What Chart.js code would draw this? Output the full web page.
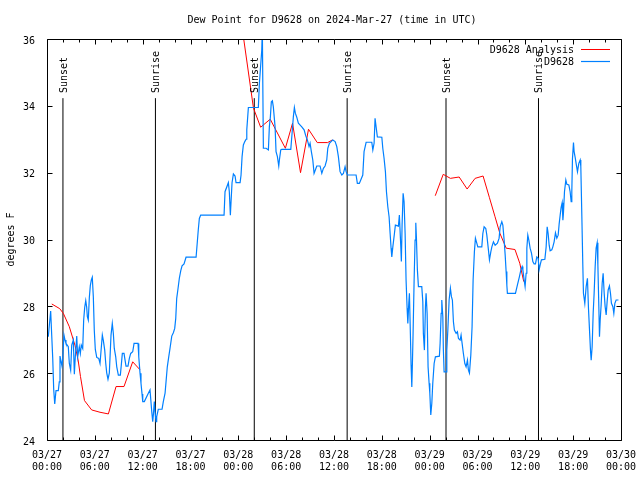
<!DOCTYPE html>
<html><head><meta charset="utf-8">
<script src="https://cdn.jsdelivr.net/npm/chart.js@4"></script>
<style>html,body{margin:0;padding:0;background:#fff}canvas{display:block}</style>
</head><body>
<canvas id="c" width="640" height="480"></canvas>
<script>
const titleText = 'Dew Point for D9628 on 2024-Mar-27 (time in UTC)';
const yTitle = 'degrees F';
const seriesNames = ['D9628 Analysis', 'D9628'];
const xTickLabels = ['03/27\n00:00','03/27\n06:00','03/27\n12:00','03/27\n18:00','03/28\n00:00','03/28\n06:00','03/28\n12:00','03/28\n18:00','03/29\n00:00','03/29\n06:00','03/29\n12:00','03/29\n18:00','03/30\n00:00'];
const yTicks = [24, 26, 28, 30, 32, 34, 36];

// hours since 03/27 00:00 UTC
const obsHours = [0.16,0.46,0.59,0.72,0.84,0.97,1.13,1.42,1.54,1.63,1.88,1.97,2.13,2.26,2.38,2.67,2.80,2.97,3.10,3.30,3.43,3.55,3.73,3.85,4.05,4.18,4.30,4.48,4.60,4.73,4.86,4.98,5.06,5.18,5.31,5.43,5.56,5.68,5.81,5.93,6.06,6.24,6.49,6.65,6.94,7.06,7.24,7.37,7.49,7.65,7.82,8.03,8.19,8.32,8.44,8.62,8.75,8.95,9.20,9.32,9.45,9.66,9.79,9.91,10.16,10.33,10.50,10.75,10.92,11.42,11.51,11.67,11.79,11.92,12.01,12.21,12.71,12.92,13.14,13.26,13.34,13.46,13.55,13.68,13.76,13.96,14.43,14.59,14.81,14.93,15.09,15.27,15.43,15.65,15.85,16.02,16.15,16.27,16.44,16.60,16.78,16.94,17.19,17.44,18.70,18.98,19.11,19.28,22.21,22.33,22.75,22.87,23.00,23.21,23.38,23.59,23.71,24.22,24.34,24.47,24.63,24.81,24.97,25.06,25.26,26.51,26.64,26.94,27.01,27.14,27.48,27.77,27.89,28.02,28.14,28.27,28.39,28.61,28.73,28.90,29.07,29.15,29.32,29.45,30.58,30.74,30.90,31.03,31.15,31.33,31.53,31.96,32.25,32.46,32.66,32.87,33.00,33.16,33.34,33.50,33.66,33.84,34.25,34.47,34.67,34.88,35.09,35.22,35.42,35.85,36.14,36.35,36.55,36.76,36.98,37.18,37.39,37.52,37.68,38.77,38.93,39.18,39.61,39.77,40.03,40.74,40.87,41.03,41.15,41.28,41.44,42.00,42.12,42.28,42.45,42.58,42.75,42.91,43.04,43.16,43.25,43.38,43.58,43.70,44.08,44.20,44.38,44.45,44.54,44.67,44.79,44.92,45.04,45.17,45.26,45.38,45.46,45.58,45.67,45.76,45.83,45.92,46.05,46.17,46.26,46.34,46.46,46.59,47.01,47.14,47.21,47.34,47.47,47.55,47.68,47.80,47.93,48.02,48.14,48.27,48.39,48.56,48.72,49.22,49.31,49.44,49.52,49.65,49.72,49.81,50.06,50.15,50.28,50.44,50.60,50.73,50.85,50.98,51.10,51.32,51.48,51.61,51.82,51.94,52.07,52.23,52.41,52.57,52.74,52.86,52.99,53.16,53.32,53.45,53.61,53.74,53.91,54.04,54.54,54.67,54.83,55.04,55.17,55.37,55.50,55.67,55.80,56.00,56.21,56.50,56.71,56.84,57.05,57.18,57.34,57.47,57.59,57.68,57.75,58.76,59.01,59.26,59.44,59.60,59.69,59.85,59.97,60.10,60.19,60.31,60.44,60.60,60.77,60.94,61.10,61.27,61.44,61.61,61.73,61.86,62.02,62.45,62.61,62.74,62.86,62.99,63.11,63.32,63.45,63.61,63.78,63.95,64.12,64.24,64.37,64.49,64.62,64.71,64.78,64.91,65.08,65.21,65.46,65.62,65.75,65.83,65.91,66.04,66.12,66.25,66.37,66.54,66.71,66.88,66.96,67.09,67.21,67.29,67.46,67.63,67.79,67.92,68.04,68.17,68.26,68.38,68.51,68.63,68.76,68.88,69.01,69.10,69.22,69.30,69.39,69.51,69.64,69.76,69.89,70.01,70.14,70.26,70.39,70.55,70.68,70.80,70.98,71.10,71.23,71.39,71.68];
const obsDew = [27.09,27.86,27.14,26.44,25.52,25.08,25.48,25.48,25.74,26.51,26.21,26.44,27.14,26.99,26.89,26.79,26.29,26.09,26.84,26.99,25.97,26.49,27.11,26.49,26.79,26.59,26.84,26.74,27.59,27.97,28.17,27.97,27.69,27.59,28.26,28.61,28.79,28.87,28.29,27.29,26.71,26.47,26.44,26.29,27.14,26.99,26.69,26.29,26.01,25.82,26.01,27.14,27.49,27.19,26.74,26.49,26.19,25.94,25.94,26.24,26.59,26.59,26.39,26.21,26.21,26.44,26.59,26.64,26.89,26.89,26.49,26.00,25.70,25.38,25.15,25.15,25.40,25.50,24.85,24.55,24.75,25.15,24.85,24.55,24.70,24.92,24.92,25.15,25.40,25.74,26.19,26.49,26.74,27.11,27.21,27.34,27.64,28.24,28.54,28.84,29.07,29.21,29.27,29.47,29.47,30.30,30.63,30.73,30.73,31.43,31.70,31.43,30.73,31.70,31.96,31.90,31.70,31.70,31.93,32.48,32.83,32.93,33.00,33.28,33.95,33.95,34.67,35.67,36.30,32.73,32.73,32.68,33.37,33.67,34.12,34.15,33.97,33.37,32.63,32.48,32.20,32.38,32.68,32.70,32.70,33.18,33.67,33.95,33.78,33.66,33.48,33.37,33.28,33.10,32.98,32.78,32.88,32.63,32.38,31.98,32.08,32.20,32.20,31.98,32.13,32.20,32.38,32.73,32.88,32.98,32.93,32.78,32.48,32.03,31.93,31.98,32.18,32.03,31.93,31.93,31.68,31.68,31.93,32.63,32.91,32.91,32.68,32.88,33.63,33.37,33.07,33.06,32.73,32.43,32.03,31.43,30.98,30.68,30.18,29.74,29.48,29.78,30.18,30.43,30.40,30.73,29.78,29.34,30.43,31.38,31.13,30.18,28.79,27.94,27.49,28.09,28.39,27.19,26.24,25.59,26.24,27.19,28.79,29.98,30.50,30.04,29.09,28.59,28.59,28.14,27.19,26.69,27.99,28.39,27.79,26.19,25.70,25.40,24.75,25.10,25.70,26.29,26.49,26.51,26.89,27.79,28.19,27.69,26.69,26.04,26.04,26.69,27.29,28.19,28.54,28.29,28.19,27.54,27.29,27.19,27.24,27.04,26.99,27.14,26.89,26.59,26.29,26.19,26.39,26.09,26.00,26.54,27.39,28.79,29.63,30.04,29.89,29.78,29.78,30.18,30.38,30.33,30.13,29.69,29.39,29.63,29.78,29.93,29.83,29.89,30.04,30.38,30.53,30.43,29.98,29.54,29.04,28.64,28.39,28.39,28.64,28.89,29.09,29.19,29.09,28.79,28.59,28.99,29.74,30.13,29.98,29.74,29.59,29.34,29.27,29.27,29.48,29.44,29.09,29.24,29.39,29.41,29.78,30.38,30.18,29.83,29.66,29.69,29.78,29.93,30.20,30.04,30.13,30.46,30.73,30.96,31.10,30.58,30.78,31.43,31.78,31.65,31.63,31.43,31.13,31.43,32.40,32.90,32.63,32.46,32.28,32.03,32.28,32.38,32.18,30.68,29.24,28.39,28.09,28.59,28.84,27.94,27.34,26.69,26.39,26.79,27.79,28.39,29.19,29.74,29.90,29.24,27.99,27.09,27.59,28.04,28.69,28.99,28.39,27.99,27.74,28.14,28.49,28.61,28.39,28.09,27.99,27.79,28.09,28.19,28.19];

const anaHours = [0.6,1.6,2.05,2.8,3.5,3.9,4.2,4.7,5.6,6.65,7.7,8.66,9.66,10.75,11.67,null,24.2,25.9,26.8,28.0,29.9,30.8,31.8,32.8,33.9,35.2,35.8,null,48.7,49.7,50.6,51.7,52.7,53.7,54.7,55.5,56.2,56.8,57.6,58.7,59.3,59.8];
const anaDew = [28.07,27.93,27.79,27.39,26.84,26.40,25.90,25.18,24.90,24.83,24.78,25.60,25.60,26.34,26.10,null,36.8,33.93,33.36,33.60,32.73,33.48,32.00,33.30,32.90,32.90,32.98,null,31.31,31.95,31.83,31.87,31.51,31.83,31.90,31.25,30.68,30.19,29.74,29.70,29.29,28.74];

const sunHours = [2.0, 13.6, 26.0, 37.65, 50.05, 61.65];
const sunNames = ['Sunset','Sunrise','Sunset','Sunrise','Sunset','Sunrise'];
const sunLineTop = 34.23;

const FONT = '"DejaVu Sans Mono", "Liberation Mono", monospace';
Chart.defaults.font.family = FONT;
Chart.defaults.font.size = 10;
Chart.defaults.color = '#000';

const colors = { ana: '#ff0000', obs: '#0080ff', sun: '#000000' };

const datasets = [
  { label: seriesNames[1], data: obsHours.map((h, i) => ({ x: h, y: obsDew[i] })),
    borderColor: colors.obs, borderWidth: 1.2, pointRadius: 0, tension: 0, order: 0 },
  { label: seriesNames[0], data: anaHours.map((h, i) => ({ x: h, y: anaDew[i] })),
    borderColor: colors.ana, borderWidth: 1, pointRadius: 0, tension: 0, spanGaps: false, order: 1 }
];
sunHours.forEach((t, i) => {
  datasets.push({ label: sunNames[i], data: [{ x: t, y: 24 }, { x: t, y: sunLineTop }],
    borderColor: colors.sun, borderWidth: 1, pointRadius: 0, order: 2 });
});

const deco = {
  id: 'deco',
  afterDraw(chart) {
    const { ctx, chartArea: a, scales: { x, y } } = chart;
    const L = Math.round(a.left) + 0.5, R = Math.round(a.right) + 0.5;
    const T = Math.round(a.top) + 0.5, B = Math.round(a.bottom) + 0.5;
    ctx.save();
    ctx.strokeStyle = '#000'; ctx.lineWidth = 1;
    ctx.beginPath();
    ctx.rect(L, T, R - L, B - T);
    for (let h = 0; h <= 72; h += 2) {
      const px = Math.round(x.getPixelForValue(h)) + 0.5;
      const len = (h % 6 === 0) ? 5 : 3;
      ctx.moveTo(px, B); ctx.lineTo(px, B - len);
      ctx.moveTo(px, T); ctx.lineTo(px, T + len);
    }
    yTicks.forEach(v => {
      const py = Math.round(y.getPixelForValue(v)) + 0.5;
      ctx.moveTo(L, py); ctx.lineTo(L + 5, py);
      ctx.moveTo(R, py); ctx.lineTo(R - 5, py);
    });
    ctx.stroke();

    ctx.fillStyle = '#000';
    ctx.font = '10px ' + FONT;
    ctx.textAlign = 'center'; ctx.textBaseline = 'middle';
    ctx.fillText(titleText, (a.left + a.right) / 2 - 2, 20);
    ctx.save();
    ctx.translate(11, (a.top + a.bottom) / 2);
    ctx.rotate(-Math.PI / 2);
    ctx.fillText(yTitle, 0, 0);
    ctx.restore();
    sunHours.forEach((t, i) => {
      ctx.save();
      ctx.translate(x.getPixelForValue(t) + 1, 93);
      ctx.rotate(-Math.PI / 2);
      ctx.textAlign = 'left'; ctx.textBaseline = 'middle';
      ctx.fillText(sunNames[i], 0, 0);
      ctx.restore();
    });
    ctx.textAlign = 'right'; ctx.textBaseline = 'middle';
    const leg = [[seriesNames[0], colors.ana, 1, 50], [seriesNames[1], colors.obs, 1.2, 62]];
    leg.forEach(([name, col, w, ly]) => {
      ctx.fillStyle = '#000';
      ctx.fillText(name, 574, ly);
      ctx.strokeStyle = col; ctx.lineWidth = w;
      ctx.beginPath(); ctx.moveTo(581, ly - 0.5); ctx.lineTo(610, ly - 0.5); ctx.stroke();
    });
    ctx.restore();
  }
};

new Chart(document.getElementById('c'), {
  type: 'line',
  data: { datasets },
  options: {
    responsive: false, animation: false, devicePixelRatio: 1,
    layout: { padding: { top: 39, right: 19, left: 0, bottom: 0 } },
    plugins: { legend: { display: false }, title: { display: false }, tooltip: { enabled: false } },
    scales: {
      x: {
        type: 'linear', min: 0, max: 72,
        grid: { display: false, drawTicks: false }, border: { display: false },
        ticks: { stepSize: 6, autoSkip: false, maxRotation: 0, padding: 9,
          font: { size: 10, lineHeight: 1.2 },
          callback: (v) => { const i = Math.round(v / 6); return xTickLabels[i] ? xTickLabels[i].split('\n') : ''; } },
        afterFit: (s) => { s.height = 40; s.paddingLeft = 0; s.paddingRight = 0; }
      },
      y: {
        min: 24, max: 36,
        grid: { display: false, drawTicks: false }, border: { display: false },
        ticks: { stepSize: 2, padding: 12, labelOffset: 2, font: { size: 10 } },
        afterFit: (s) => { s.width = 47; s.paddingTop = 0; s.paddingBottom = 0; }
      }
    }
  },
  plugins: [deco]
});
</script>
</body></html>
